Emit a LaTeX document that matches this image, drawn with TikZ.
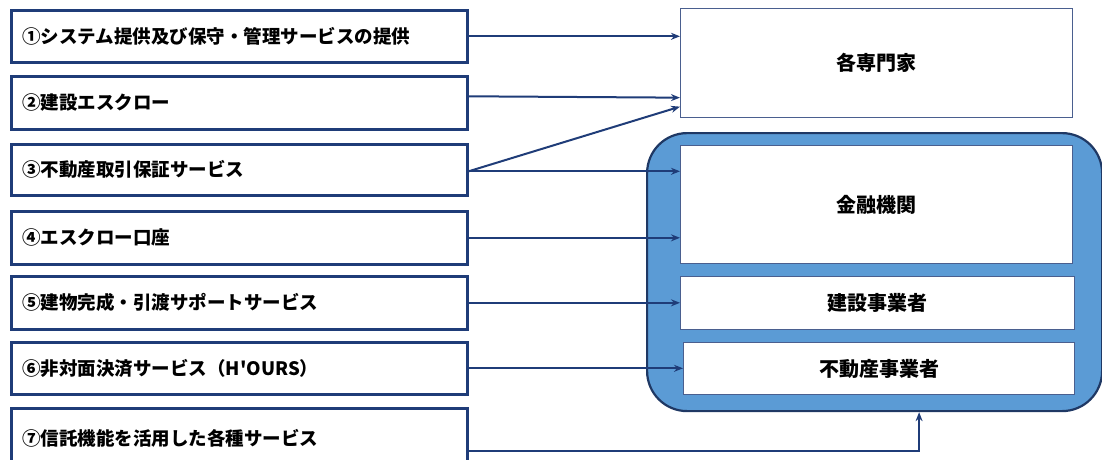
\documentclass[tikz,border=0pt]{standalone}
\usepackage{fontspec}
\newfontfamily\jp{Noto Sans CJK JP}
\usetikzlibrary{arrows.meta}
\definecolor{navy}{HTML}{1F3C78}
\definecolor{grpfill}{HTML}{5B9BD5}
\definecolor{grpline}{HTML}{1F3864}
\definecolor{rline}{HTML}{4A5F8F}
\tikzset{
  lbox/.style={draw=navy, line width=2.6pt, fill=white, anchor=north west,
    minimum width=456pt, text width=434pt, inner xsep=11pt, align=left,
    font=\jp\bfseries\fontsize{18.5pt}{21pt}\selectfont},
  rbox/.style={draw=rline, line width=1.3pt, fill=white, anchor=north west,
    font=\jp\bfseries\fontsize{20pt}{23pt}\selectfont},
  grpbox/.style={draw=grpline, line width=2.2pt, fill=grpfill, rounded corners=40pt,
    anchor=north west},
  arr/.style={draw=navy, line width=2pt, -{Stealth[length=9pt,width=7pt]}}
}
\begin{document}
\begin{tikzpicture}[x=1pt,y=-1pt]
\useasboundingbox (0,0) rectangle (1102,459);
\clip (0,0) rectangle (1102,459);
% left boxes
\node[lbox, minimum height=52pt] (b1) at (10,9) {①システム提供及び保守・管理サービスの提供};
\node[lbox, minimum height=53pt] (b2) at (10,75) {②建設エスクロー};
\node[lbox, minimum height=51pt] (b3) at (10,143) {③不動産取引保証サービス};
\node[lbox, minimum height=53pt] (b4) at (10,210) {④エスクロー口座};
\node[lbox, minimum height=53pt] (b5) at (10,275) {⑤建物完成・引渡サポートサービス};
\node[lbox, minimum height=52pt] (b6) at (10,341) {⑥非対面決済サービス（H'OURS）};
\node[lbox, minimum height=60pt] (b7) at (10,407) {⑦信託機能を活用した各種サービス};
% right side
\node[rbox, minimum width=392pt, minimum height=109pt] (exp) at (680,8) {各専門家};
\node[grpbox, minimum width=455pt, minimum height=278pt] (grp) at (646,132) {};
\node[rbox, minimum width=392pt, minimum height=118pt] (fin) at (680,145) {金融機関};
\node[rbox, minimum width=394pt, minimum height=53pt] (bld) at (680,276) {建設事業者};
\node[rbox, minimum width=391pt, minimum height=52pt] (re) at (683,342) {不動産事業者};
% connectors
\draw[arr] (b1.east) -- (exp.west |- b1.east);
\draw[arr] ([yshift=6.5pt]b2.east) -- ([yshift=-34.5pt]exp.west);
\draw[arr] ([yshift=-1.5pt]b3.east) -- ([yshift=-43.5pt]exp.west);
\draw[arr] ([yshift=-1.5pt]b3.east) -- ([yshift=-1.5pt]fin.west |- b3.east);
\draw[arr] (b4.east) -- (fin.west |- b4.east);
\draw[arr] (b5.east) -- (bld.west |- b5.east);
\draw[arr] (b6.east) -- (re.west |- b6.east);
\draw[arr] ([yshift=-13pt]b7.east) -| ([xshift=44.5pt]grp.south);
\end{tikzpicture}
\end{document}
